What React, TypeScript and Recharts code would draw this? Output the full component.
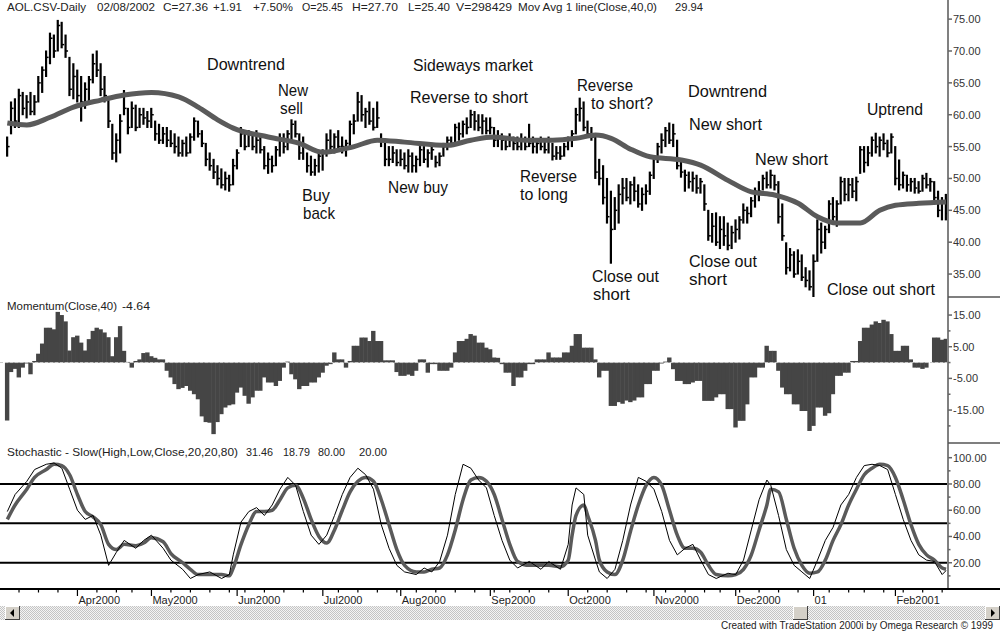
import React from "react";
import { ComposedChart, Bar, Line, XAxis, YAxis, ReferenceLine } from "recharts";

const SANS = '"Liberation Sans", Arial, Helvetica, sans-serif';
const NARROW = '"Liberation Sans Narrow", "Liberation Sans", Arial, sans-serif';

// daily bars, index 0 = 8 Mar 2000
const highs = [
  56.5, 62, 62.5, 64, 63.5, 63, 63.5, 63, 66, 67.5,
  70, 72.8, 72.5, 74.8, 74.5, 72.5, 69, 68, 67, 66,
  65, 66, 69.5, 70, 68, 66, 62.5, 58.5, 57, 60,
  63.8, 61, 62, 61.5, 61, 61, 60.5, 61, 59, 58.5,
  58, 58, 57.5, 57, 56.5, 56, 56.5, 57, 59.5, 59,
  57.5, 55.5, 54, 53, 52, 51.5, 51, 50.5, 53, 54.5,
  58, 57.5, 57.5, 57, 57.5, 56.5, 55, 54, 53.5, 55,
  57, 57, 57.5, 59.2, 59, 57, 56.5, 54, 53.5, 53,
  54, 54.5, 57, 57.6, 57, 57.5, 56.5, 56, 59, 60,
  63.5, 63, 61, 62, 61, 62, 57, 56, 55, 55,
  54.5, 54.5, 54, 54.5, 54, 53.5, 55, 55, 54.5, 55,
  53.5, 54, 55.5, 56.5, 56.5, 58.5, 58.7, 59, 59.5, 60.7,
  60.5, 60, 60, 59.5, 59.5, 58, 57.5, 57, 56.5, 57,
  56.5, 56.5, 57, 56.5, 58.5, 56.5, 56, 56.5, 56, 56.5,
  55.5, 55, 55, 55.5, 56.5, 57.5, 61, 62.6, 62, 59,
  58, 56.5, 53, 52, 50, 48, 47, 49, 50, 50,
  49.5, 50.2, 49, 48.5, 49, 51, 53.5, 55.5, 57, 58,
  58.7, 58.5, 56, 53, 51.3, 51, 51, 50.5, 50, 49,
  45, 44.5, 44.6, 44, 44, 43, 42.5, 43.5, 44, 46,
  45.5, 47, 48.5, 49.5, 50.5, 51, 51.3, 50.5, 49.5, 46,
  39.9, 39, 38.5, 38.8, 38, 36, 35.5, 38, 43.5, 43,
  42.5, 46.5, 47, 46.5, 50.2, 50, 50, 50, 50.2, 55,
  55, 55, 56.5, 57.1, 56.5, 57, 56, 57, 55, 52.9,
  51, 50.5, 50, 50, 49.5, 50.5, 50.8, 50, 49.5, 48,
  47, 47.5,
];

const lows = [
  53.5, 57, 58, 58, 60, 59.5, 60, 60, 62, 63.5,
  66, 68, 69, 70, 70.5, 69, 63, 62.5, 62, 59,
  61, 62, 65, 66, 63, 62, 58, 53, 52.6, 54,
  60, 57, 58, 57.5, 58, 58.5, 58, 58, 56, 55.5,
  55.5, 55, 55, 54, 53.5, 53.5, 53.5, 54, 56, 56.5,
  55, 52, 51.3, 50, 49, 48.5, 48.2, 48, 49, 51.5,
  55, 54.5, 55, 54.5, 54, 54, 51.5, 50.8, 51, 52,
  53.5, 54, 54.5, 56, 56.5, 53, 53, 51, 50.5, 50.5,
  51, 51.3, 53.5, 54, 54, 54.5, 54, 53.5, 55, 57,
  59, 59, 58, 58.5, 57.6, 58, 55, 52, 52, 52.5,
  52, 52, 51.5, 51, 51, 51, 52, 52.5, 51.8, 53,
  51.8, 52, 53.5, 54.5, 55, 55.5, 56, 56.5, 57, 58,
  57.6, 57.5, 57, 57, 57, 55, 55, 54.5, 54.5, 55,
  54.5, 54.5, 54.5, 54.5, 55, 54, 54, 54.5, 54, 54,
  52.9, 53, 53, 53.5, 54.5, 55, 57, 59, 57.5, 56.5,
  56, 50, 49, 46, 43, 36.7, 42, 43, 46, 46.5,
  46, 46.5, 45.5, 45, 46, 47.5, 50, 52.5, 54, 55,
  55.5, 55, 51.5, 50.2, 48, 48.5, 48, 47.7, 47.7, 45,
  40.3, 40, 39.5, 39, 39.5, 38.8, 39, 40, 40.5, 43,
  43, 44, 45.5, 46.5, 48.2, 48.5, 48.5, 48.2, 43, 40.3,
  35, 35.5, 34.5, 35, 34, 33, 32.5, 31.4, 37, 38.3,
  39, 41.5, 43, 42.5, 46, 46.5, 46.5, 47, 46.5, 50.8,
  51, 52, 53.5, 54, 53.5, 54.5, 53.4, 54, 49, 48.2,
  48.5, 48, 48, 47.7, 47.7, 48, 48.5, 48, 46, 44,
  43.5, 43.5,
];

const closes = [
  55, 61, 59, 63, 61, 62, 60.5, 62, 65, 67,
  69, 72, 70, 74, 71, 70, 64, 66, 63, 62,
  64, 65.5, 68, 67, 64, 63, 59, 54, 56, 59,
  61, 58, 61, 58, 60, 59.5, 59, 60, 57, 56,
  57, 56, 55.5, 55, 54, 55.5, 54, 56.5, 59, 57,
  55.5, 53, 52, 51, 50, 49, 50, 49, 52, 54,
  57, 55, 57, 55, 56, 54.5, 52, 53, 52, 54.5,
  56, 55, 57, 58.5, 57, 54, 55, 52, 51, 52,
  53.5, 54, 56, 55, 56.5, 55, 55, 55.5, 58.5, 59,
  62, 60, 60.5, 59, 58, 59.5, 56, 53, 53, 54,
  52.5, 53, 52, 53.5, 52, 53, 54.5, 53, 54, 54.5,
  52.5, 53.5, 55, 56, 55.5, 58, 57, 58.5, 58, 60,
  59, 58, 59, 57.5, 58, 56, 56.5, 56, 55, 56,
  55.5, 55, 56, 55, 55.5, 55, 55.5, 55, 54.5, 56,
  53.5, 54, 53.5, 55, 56, 57, 60, 61, 58, 57,
  56.5, 51, 50, 47, 44, 42, 45, 47.5, 48.5, 47,
  49, 48, 46, 47.5, 48, 50.5, 53, 55, 56, 57.5,
  56, 57, 52, 51, 50.5, 49.5, 50, 48.5, 49.5, 46,
  41, 42.5, 40, 42, 41, 39.5, 41.5, 42, 43.5, 45,
  44.5, 46.5, 48, 48, 50, 49, 50.5, 49, 44, 41,
  36, 38, 35, 37, 34.5, 34, 33, 37, 42, 40,
  42, 46, 44, 46, 49.5, 47.5, 49, 48, 49.5, 54.5,
  52.5, 54, 56, 55, 56, 55.5, 54, 56.5, 50, 49,
  50.5, 49, 49.5, 48.5, 48, 50, 49, 49.5, 47, 45,
  46.5, 44.5,
];

const momentum = [
  -18.3, -3, -2, -4.7, -1.6, -0.3, -3.7, 0.5, 2.8, 6,
  11, 11, 10.5, 16, 15, 13, 3.8, 8, 8.5, 6.3,
  3.8, 7.4, 10, 11, 10.5, 9.5, 8, 2, 8, 11.5,
  3.7, 0.2, -1.6, 0.5, 1, 3, 3.2, 2, 1.5, 1,
  1, -2.6, -4.7, -6.8, -8.4, -8, -7.4, -8.9, -10, -11.6,
  -17, -18.8, -19, -22.6, -18.8, -16.3, -14.2, -13.5, -13.2, -9.5,
  -7.9, -10.5, -13, -11, -8.9, -8.9, -4.7, -6.3, -6.3, -7.4,
  -5.8, -1.6, 0.3, -3.7, -5.3, -8.4, -7.4, -7.4, -6.3, -6.3,
  -4.7, -3.2, -1, -0.5, 3.2, 1, 1, -1.6, 0.5, 5.3,
  5.3, 7.9, 7.9, 6.8, 10, 6.8, 6.8, 0.7, 0.7, 0.7,
  -3, -4.2, -4.2, -3.8, -4.2, -2.6, 1, 1, -3.2, -0.5,
  -0.5, -2.6, -2.6, -2.6, -1.6, 3.2, 6.8, 6.8, 7.5, 9,
  8.5, 6.3, 6.3, 4.7, 4.2, 1.6, 1.5, -0.5, -3.2, -3.2,
  -7.4, -4.7, -4.7, -2.6, -0.5, -0.5, 1, 1, 1, 3.2,
  1.6, 1.6, 1.6, 3.2, 3.2, 5.3, 9, 9, 4.7, 4.7,
  4.7, 1, -4.7, -2.6, -2.6, -13.7, -13.7, -12.5, -13, -12,
  -12.5, -12, -11, -11, -6.8, -6.8, -2.6, -2.6, -0.3, 0.3,
  1.6, -2.1, -5.8, -5.8, -6.8, -6.8, -6.3, -5.8, -5.8, -12.1,
  -12.1, -12.1, -11, -10, -10, -14.7, -14.7, -20.5, -18.4, -18.4,
  -13.2, -4.7, -4.7, -1.6, -1.6, 5.3, 3.7, 3.7, -2.6, -7.9,
  -10, -10, -13.2, -13.2, -15.3, -15.3, -21.6, -20, -14.2, -14.2,
  -16.8, -16, -10, -4.2, -4.2, -3.2, -3.2, 0.5, 0.5, 6.8,
  11, 11, 12, 13, 12.5, 13.5, 13, 9, 3.7, 3.7,
  5.3, 5.3, 1, -1.6, -1.6, -2, -1.6, 0, 7.9, 7.9,
  7.2, 7.5,
];

// 40-day moving average, read at these days
const maDays = [0, 5, 11, 17, 24, 30, 37, 44, 49, 54, 58, 67, 75, 81, 89, 95, 102, 113, 119, 125, 133, 140, 146, 151, 155, 160, 165, 173, 178, 185, 191, 197, 203, 208, 213, 219, 224, 228, 234, 241];
const maValues = [58.7, 58.4, 59.6, 61.2, 62.3, 63.1, 63.5, 62.8, 61.2, 59.2, 57.9, 56.5, 55.5, 54.1, 55, 56, 55.7, 55.2, 56, 56.5, 56, 56, 56.3, 56.8, 56.3, 54.6, 53.4, 52.9, 52.1, 49.7, 47.9, 47.4, 46.1, 44, 43, 43, 45, 45.8, 46.1, 46.3];

// slow stochastic
const stochDays = [0, 2, 5, 7, 10, 12, 14, 16, 18, 20, 22, 24, 26, 28, 30, 33, 35, 37, 40, 42, 45, 47, 49, 52, 55, 57, 58, 60, 62, 64, 66, 68, 70, 72, 74, 76, 78, 80, 82, 84, 86, 88, 90, 92, 94, 96, 98, 100, 102, 105, 107, 109, 111, 113, 115, 117, 119, 121, 123, 125, 127, 129, 131, 134, 137, 139, 142, 144, 145, 146, 148, 149, 151, 152, 154, 156, 158, 160, 162, 164, 166, 168, 170, 172, 174, 176, 178, 180, 182, 185, 187, 189, 191, 193, 195, 196, 198, 200, 202, 204, 206, 208, 210, 212, 214, 216, 218, 220, 222, 224, 226, 228, 230, 232, 234, 236, 238, 240, 241];
const stochK = [59, 72, 82, 91, 95, 96, 92, 76, 60, 53, 56, 41, 18, 28, 37, 31, 37, 41, 31, 22, 15, 8, 11, 13, 8, 11, 26, 51, 59, 62, 56, 64, 76, 85, 79, 59, 41, 34, 41, 56, 72, 85, 92, 87, 76, 49, 31, 18, 13, 11, 16, 13, 21, 41, 72, 95, 92, 83, 77, 56, 37, 22, 16, 21, 15, 21, 15, 34, 64, 77, 72, 41, 22, 13, 8, 15, 37, 64, 85, 82, 76, 59, 37, 26, 31, 34, 22, 11, 8, 12, 11, 22, 45, 68, 83, 79, 56, 30, 18, 13, 8, 22, 37, 47, 64, 72, 85, 94, 95, 94, 91, 72, 53, 37, 26, 22, 21, 11, 14];
const stochD = [53, 64, 76, 85, 91, 95, 94, 87, 72, 59, 55, 49, 34, 30, 34, 33, 35, 39, 36, 27, 20, 15, 11, 11, 11, 10, 16, 34, 49, 59, 59, 60, 68, 77, 79, 69, 53, 40, 35, 45, 60, 74, 82, 85, 82, 68, 49, 30, 18, 13, 13, 15, 16, 26, 45, 68, 83, 85, 82, 72, 53, 34, 21, 18, 18, 18, 17, 22, 41, 56, 64, 56, 37, 22, 13, 11, 22, 44, 64, 79, 85, 79, 60, 41, 31, 31, 28, 18, 11, 10, 11, 15, 26, 45, 64, 76, 74, 53, 31, 18, 12, 13, 22, 37, 49, 64, 76, 87, 92, 95, 94, 85, 68, 49, 34, 26, 22, 16, 15];

// axis ticks (trading-day index)
const monthStarts = [18, 37, 59, 81, 101, 124, 144, 166, 187, 207, 228];
const monthLabels = ["Apr2000", "May2000", "Jun2000", "Jul2000", "Aug2000", "Sep2000", "Oct2000", "Nov2000", "Dec2000", "01", "Feb2001"];
const weekStarts = [3, 8, 13, 18, 23, 28, 32, 37, 42, 47, 52, 57, 61, 66, 71, 76, 81, 85, 90, 95, 100, 105, 110, 115, 120, 125, 129, 134, 139, 144, 149, 154, 159, 164, 169, 174, 179, 183, 188, 193, 198, 203, 207, 211, 216, 220, 225, 230, 235, 240];

const priceTicks = [35, 40, 45, 50, 55, 60, 65, 70, 75];
const momTicks = [-20, -15, -10, -5, 0, 5, 10, 15];
const momLabels = [-15, -5, 5, 15];
const stochTicks = [10, 20, 30, 40, 50, 60, 70, 80, 90, 100];
const stochLabels = [20, 40, 60, 80, 100];
const stochLevels = [80, 50, 20];

const X_DOMAIN: [number, number] = [-1.88, 241.5];

const maByDay = new Map(maDays.map((d, k) => [d, maValues[k]]));
const rows = highs.map((h, i) => ({
  i,
  range: [lows[i], h],
  high: h,
  low: lows[i],
  close: closes[i],
  mom: momentum[i],
  ma: maByDay.has(i) ? maByDay.get(i) : null,
}));
const stochRows = stochDays.map((day, k) => ({ i: day, slowK: stochK[k], slowD: stochD[k] }));
const xTicks = Array.from(new Set([...weekStarts, ...monthStarts])).sort((a, b) => a - b);
const monthAt = new Map(monthStarts.map((m, k) => [m, monthLabels[k]]));

const notes = [
  { t: "Downtrend", x: 207, y: 70, w: 78 },
  { t: "New", x: 278, y: 96, w: 30 },
  { t: "sell", x: 280, y: 114, w: 23 },
  { t: "Buy", x: 302, y: 201, w: 28 },
  { t: "back", x: 303, y: 219, w: 32 },
  { t: "Sideways market", x: 413, y: 71, w: 120 },
  { t: "Reverse to short", x: 410, y: 103, w: 118 },
  { t: "New buy", x: 388, y: 193, w: 60 },
  { t: "Reverse", x: 577, y: 91, w: 56 },
  { t: "to short?", x: 591, y: 109, w: 62 },
  { t: "Reverse", x: 520, y: 182, w: 57 },
  { t: "to long", x: 520, y: 200, w: 48 },
  { t: "Close out", x: 592, y: 282, w: 67 },
  { t: "short", x: 593, y: 300, w: 37 },
  { t: "Downtrend", x: 688, y: 97, w: 79 },
  { t: "New short", x: 689, y: 130, w: 73 },
  { t: "New short", x: 755, y: 165, w: 73 },
  { t: "Close out", x: 689, y: 267, w: 68 },
  { t: "short", x: 689, y: 285, w: 38 },
  { t: "Uptrend", x: 867, y: 115, w: 56 },
  { t: "Close out short", x: 827, y: 295, w: 108 },
];

const headers = [
  { t: "AOL.CSV-Daily", x: 7, y: 11, w: 79 },
  { t: "02/08/2002", x: 97, y: 11, w: 58 },
  { t: "C=27.36", x: 163, y: 11, w: 45 },
  { t: "+1.91", x: 213, y: 11, w: 29 },
  { t: "+7.50%", x: 253, y: 11, w: 40 },
  { t: "O=25.45", x: 302, y: 11, w: 41 },
  { t: "H=27.70", x: 352, y: 11, w: 46 },
  { t: "L=25.40", x: 408, y: 11, w: 42 },
  { t: "V=298429", x: 456, y: 11, w: 56 },
  { t: "Mov Avg 1 line(Close,40,0)", x: 518, y: 11, w: 139 },
  { t: "29.94", x: 675, y: 11, w: 28 },
  { t: "Momentum(Close,40)", x: 7, y: 310, w: 110 },
  { t: "-4.64", x: 122, y: 310, w: 28 },
  { t: "Stochastic - Slow(High,Low,Close,20,20,80)", x: 7, y: 456, w: 231 },
  { t: "31.46", x: 246, y: 456, w: 27 },
  { t: "18.79", x: 283, y: 456, w: 27 },
  { t: "80.00", x: 318, y: 456, w: 27 },
  { t: "20.00", x: 359, y: 456, w: 28 },
];

const OhlcBar = (props: any) => {
  const { x, y, width, height, payload } = props;
  if (payload == null || x == null) return null;
  const cx = x + width / 2;
  const top = Math.min(y, y + height);
  const h = Math.abs(height);
  const span = payload.high - payload.low || 1;
  const yc = top + ((payload.high - payload.close) / span) * h;
  return (
    <g>
      <line x1={cx} x2={cx} y1={top - 0.5} y2={top + h + 0.5} stroke="#000" strokeWidth={2.2} />
      <line x1={cx} x2={cx + 2.5} y1={yc} y2={yc} stroke="#000" strokeWidth={1.5} />
    </g>
  );
};

// histogram column that fills the whole day slot
const MomColumn = (props: any) => {
  const { x, y, width, height } = props;
  if (x == null || height == null) return null;
  const cx = x + width / 2;
  const top = Math.min(y, y + height);
  return <rect x={cx - 2.2} y={top} width={4.4} height={Math.abs(height)} fill="#454545" />;
};

const YTick = (props: any) => {
  const { x, y, payload, labels } = props;
  const show = labels.includes(payload.value);
  return (
    <g>
      <line x1={x} x2={x + (show ? 4 : 2.5)} y1={y} y2={y} stroke="#666" strokeWidth={1.5} />
      {show && (
        <text x={x + 5} y={y} dy="0.36em" fontSize={11} fontFamily={SANS} fill="#333">
          {payload.value.toFixed(2)}
        </text>
      )}
    </g>
  );
};

const XTick = (props: any) => {
  const { x, y, payload } = props;
  const label = monthAt.get(payload.value);
  return (
    <g>
      <line x1={x} x2={x} y1={y} y2={y + (label ? 7 : 3.5)} stroke="#000" strokeWidth={1.2} />
      {label && (
        <text x={x + 1} y={y + 15} fontSize={11} fontFamily={SANS} fill="#222">
          {label}
        </text>
      )}
    </g>
  );
};

const yAxisCommon = {
  orientation: "right" as const,
  width: 52,
  tickLine: false,
  tickSize: 0,
  tickMargin: 0,
  interval: 0 as const,
  allowDataOverflow: true,
  axisLine: { stroke: "#808080", strokeWidth: 2 },
};

const NoMargin = { top: 0, right: 0, bottom: 0, left: 0 };

const Button = ({ x, dir }: { x: number; dir: "l" | "r" }) => (
  <g>
    <rect x={x} y={606} width={15} height={14} fill="#d4d0c8" />
    <line x1={x} x2={x + 15} y1={606.5} y2={606.5} stroke="#fff" />
    <line x1={x + 0.5} x2={x + 0.5} y1={606} y2={620} stroke="#fff" />
    <line x1={x} x2={x + 15} y1={619.5} y2={619.5} stroke="#404040" />
    <line x1={x + 14.5} x2={x + 14.5} y1={606} y2={620} stroke="#404040" />
    {dir === "l" ? (
      <polygon points={`${x + 5},613 ${x + 9},609 ${x + 9},617`} fill="#000" />
    ) : (
      <polygon points={`${x + 10},613 ${x + 6},609 ${x + 6},617`} fill="#000" />
    )}
  </g>
);

export default function App() {
  return (
    <div style={{ position: "relative", width: 1000, height: 634, background: "#fff", overflow: "hidden" }}>
      <style>{"body{margin:0}"}</style>

      <div style={{ position: "absolute", left: 0, top: 0 }}>
        <ComposedChart width={1000} height={297} data={rows} margin={NoMargin}>
          <XAxis type="number" dataKey="i" domain={X_DOMAIN} ticks={monthStarts} allowDataOverflow hide />
          <YAxis {...yAxisCommon} domain={[31.4, 78]} ticks={priceTicks} tick={(p: any) => <YTick {...p} labels={priceTicks} />} />
          <Bar dataKey="range" barSize={4} shape={<OhlcBar />} isAnimationActive={false} />
          <Line dataKey="ma" type="monotone" connectNulls dot={false} activeDot={false} stroke="#5a5a5a" strokeWidth={5} isAnimationActive={false} />
        </ComposedChart>
      </div>

      <div style={{ position: "absolute", left: 0, top: 297 }}>
        <ComposedChart width={1000} height={146} data={rows} margin={NoMargin}>
          <XAxis type="number" dataKey="i" domain={X_DOMAIN} ticks={monthStarts} allowDataOverflow hide />
          <YAxis {...yAxisCommon} domain={[-25.4, 20.7]} ticks={momTicks} tick={(p: any) => <YTick {...p} labels={momLabels} />} />
          <Bar dataKey="mom" barSize={4} fill="#454545" shape={<MomColumn />} isAnimationActive={false} />
          <ReferenceLine y={0} stroke="#c8c8c8" strokeDasharray="3 2" strokeWidth={1} />
        </ComposedChart>
      </div>

      <div style={{ position: "absolute", left: 0, top: 443 }}>
        <ComposedChart width={1000} height={171} data={stochRows} margin={NoMargin}>
          <XAxis
            type="number"
            dataKey="i"
            domain={X_DOMAIN}
            ticks={xTicks}
            interval={0}
            allowDataOverflow
            height={25}
            tickLine={false}
            tickSize={0}
            tickMargin={0}
            axisLine={{ stroke: "#000", strokeWidth: 2 }}
            tick={(p: any) => <XTick {...p} />}
          />
          <YAxis {...yAxisCommon} domain={[0, 111.2]} ticks={stochTicks} tick={(p: any) => <YTick {...p} labels={stochLabels} />} />
          {stochLevels.map((lv) => (
            <ReferenceLine key={lv} y={lv} stroke="#000" strokeWidth={2} />
          ))}
          <Line dataKey="slowD" type="monotone" dot={false} activeDot={false} stroke="#5a5a5a" strokeWidth={3.5} isAnimationActive={false} />
          <Line dataKey="slowK" type="linear" dot={false} activeDot={false} stroke="#000" strokeWidth={1} isAnimationActive={false} />
        </ComposedChart>
      </div>

      <svg width={1000} height={634} style={{ position: "absolute", left: 0, top: 0, pointerEvents: "none" }}>
        <defs>
          <pattern id="dither" width="2" height="2" patternUnits="userSpaceOnUse">
            <rect width="2" height="2" fill="#f4f4f4" />
            <rect width="1" height="1" fill="#c4c4c4" />
            <rect x="1" y="1" width="1" height="1" fill="#c4c4c4" />
          </pattern>
        </defs>

        {headers.map((h, k) => (
          <text key={k} x={h.x} y={h.y} fontSize={11} fontFamily={SANS} fill="#222" textLength={h.w} lengthAdjust="spacingAndGlyphs">
            {h.t}
          </text>
        ))}

        {notes.map((n, k) => (
          <text key={k} x={n.x} y={n.y} fontSize={17} fontFamily={NARROW} fill="#111" textLength={n.w} lengthAdjust="spacingAndGlyphs">
            {n.t}
          </text>
        ))}

        <line x1={948} x2={1000} y1={297} y2={297} stroke="#555" strokeWidth={1.5} />
        <line x1={948} x2={1000} y1={443} y2={443} stroke="#555" strokeWidth={1.5} />
        <line x1={947} x2={1000} y1={589} y2={589} stroke="#000" strokeWidth={2} />

        <rect x={0} y={606} width={1000} height={14} fill="url(#dither)" />
        <Button x={5} dir="l" />
        <Button x={985} dir="r" />
        <g>
          <rect x={793} y={606} width={15} height={14} fill="#d4d0c8" />
          <line x1={793} x2={808} y1={606.5} y2={606.5} stroke="#fff" />
          <line x1={793.5} x2={793.5} y1={606} y2={620} stroke="#fff" />
          <line x1={793} x2={808} y1={619.5} y2={619.5} stroke="#404040" />
          <line x1={807.5} x2={807.5} y1={606} y2={620} stroke="#404040" />
        </g>

        <text x={721} y={629} fontSize={10} fontFamily={SANS} fill="#222" textLength={272} lengthAdjust="spacingAndGlyphs">
          Created with TradeStation 2000i by Omega Research © 1999
        </text>
      </svg>
    </div>
  );
}
